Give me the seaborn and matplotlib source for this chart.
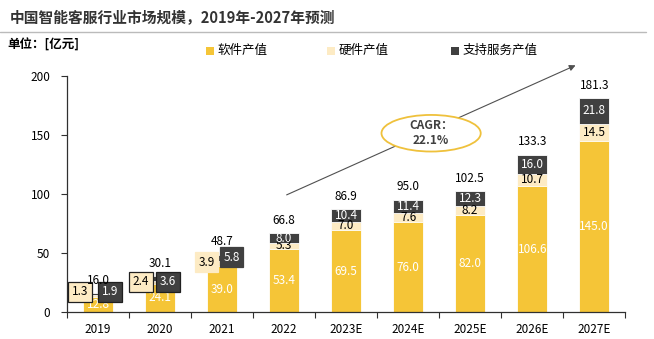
import numpy as np
import pandas as pd
import matplotlib
matplotlib.use("Agg")
import matplotlib.pyplot as plt
from matplotlib.patches import Ellipse, Rectangle
import seaborn as sns

# Market size of China's intelligent customer-service industry (100 million CNY)
years = ["2019", "2020", "2021", "2022", "2023E", "2024E", "2025E", "2026E", "2027E"]
software = [12.8, 24.1, 39.0, 53.4, 69.5, 76.0, 82.0, 106.6, 145.0]
hardware = [1.3, 2.4, 3.9, 5.3, 7.0, 7.6, 8.2, 10.7, 14.5]
service = [1.9, 3.6, 5.8, 8.0, 10.4, 11.4, 12.3, 16.0, 21.8]
totals = [16.0, 30.1, 48.7, 66.8, 86.9, 95.0, 102.5, 133.3, 181.3]
series_names = ["软件产值", "硬件产值", "支持服务产值"]
cagr_text = "CAGR：\n22.1%"

C_SOFT = "#F5C537"
C_HARD = "#FDEBC4"
C_SERV = "#404040"

sns.set_theme(style="white")
plt.rcParams["font.family"] = ["Noto Sans CJK SC", "DejaVu Sans"]
plt.rcParams["axes.unicode_minus"] = False

df = pd.DataFrame({
    "year": years,
    "software": software,
    "hardware": hardware,
    "service": service,
})
df["lvl1"] = df["software"]
df["lvl2"] = df["software"] + df["hardware"]
df["lvl3"] = df["lvl2"] + df["service"]

fig = plt.figure(figsize=(6.54, 3.39), dpi=100)
ax = fig.add_axes([0.1025, 0.0796, 0.8535, 0.6962])

# Stacked bars drawn as layered cumulative heights, tallest first
bw = 0.48
for col, color in [("lvl3", C_SERV), ("lvl2", C_HARD), ("lvl1", C_SOFT)]:
    sns.barplot(data=df, x="year", y=col, color=color, width=bw,
                edgecolor="white", linewidth=0.6, saturation=1, ax=ax)

ax.set_xlim(-0.5, len(years) - 0.5)
ax.set_ylim(0, 200)
ax.set_yticks([0, 50, 100, 150, 200])
ax.set_xlabel("")
ax.set_ylabel("")
sns.despine(ax=ax)
for s in ["left", "bottom"]:
    ax.spines[s].set_color("#303030")
    ax.spines[s].set_linewidth(0.9)

ax.tick_params(axis="y", which="major", length=4, width=0.8, color="#303030",
               labelsize=8.5, labelcolor="black", pad=8, left=True)
ax.tick_params(axis="x", which="major", length=0, labelsize=8.5,
               labelcolor="black", pad=8)
ax.set_xticks(np.arange(-0.5, len(years), 1.0), minor=True)
ax.tick_params(axis="x", which="minor", length=4, width=0.8, color="#303030",
               bottom=True)

fs = 8.5
x = np.arange(len(years))
callouts = {0: (-0.29, 0.19, 17.0, 17.0, True),
            1: (-0.31, 0.13, 25.5, 25.5, True),
            2: (-0.25, 0.15, 42.0, 46.5, False)}
for i in x:
    s, h, v, t = software[i], hardware[i], service[i], totals[i]
    ax.text(i, s / 2, f"{s:.1f}", ha="center", va="center",
            color="white", fontsize=fs)
    if i in callouts:
        dxh, dxs, yh, ys, framed = callouts[i]
        ec_h = "#202020" if framed else C_HARD
        ec_s = "#202020" if framed else C_SERV
        ax.text(i + dxh, yh, f"{h:.1f}", ha="center", va="center",
                color="black", fontsize=fs,
                bbox=dict(boxstyle="square,pad=0.3", fc=C_HARD, ec=ec_h, lw=0.9))
        ax.text(i + dxs, ys, f"{v:.1f}", ha="center", va="center",
                color="white", fontsize=fs,
                bbox=dict(boxstyle="square,pad=0.3", fc=C_SERV, ec=ec_s, lw=0.9))
    else:
        ax.text(i, s + h / 2, f"{h:.1f}", ha="center", va="center",
                color="black", fontsize=fs)
        ax.text(i, s + h + v / 2, f"{v:.1f}", ha="center", va="center",
                color="white", fontsize=fs)
    ax.text(i, t + 11, f"{t:.1f}", ha="center", va="center",
            color="black", fontsize=fs)

# Growth arrow with CAGR bubble
ax.annotate("", xy=(7.74, 210), xytext=(3.0, 98.3),
            arrowprops=dict(arrowstyle="-|>", color="#505050", lw=0.8,
                            mutation_scale=9),
            annotation_clip=False, zorder=4)
ell = Ellipse((5.37, 151.5), width=1.6, height=31, facecolor="white",
              edgecolor="#EFC13C", linewidth=1.3, zorder=5, clip_on=False)
ax.add_patch(ell)
ax.text(5.37, 151.5, cagr_text, ha="center", va="center", fontsize=8.5,
        color="#404040", fontweight="bold", linespacing=1.25, zorder=6)

# Header
fig.text(0.015, 0.946, "中国智能客服行业市场规模，2019年-2027年预测",
         ha="left", va="center", fontsize=10.6, color="#333333", fontweight="bold")
fig.add_artist(plt.Line2D([0.0, 0.988], [0.906, 0.906], transform=fig.transFigure,
                          color="#BBBBBB", lw=1.0))
fig.text(0.012, 0.868, "单位：[亿元]", ha="left", va="center", fontsize=9,
         color="black", fontweight="bold")

legend_x = [0.315, 0.500, 0.690]
for lx, name, color in zip(legend_x, series_names, [C_SOFT, C_HARD, C_SERV]):
    fig.add_artist(Rectangle((lx, 0.838), 0.0125, 0.024, transform=fig.transFigure,
                             facecolor=color, edgecolor="none"))
    fig.text(lx + 0.017, 0.852, name, ha="left", va="center", fontsize=9,
             color="black")

fig.savefig("out.png", dpi=100)
